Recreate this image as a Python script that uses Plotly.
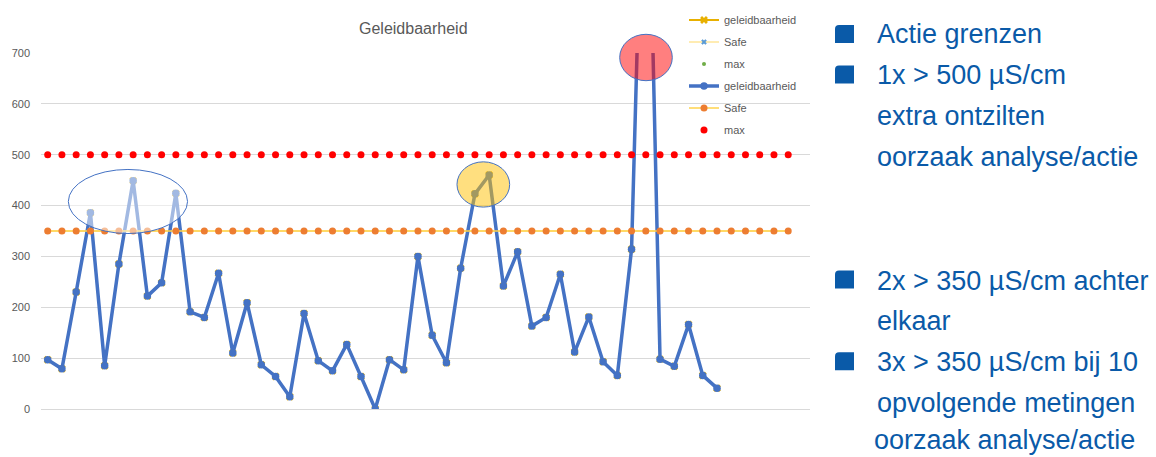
import plotly.graph_objects as go

# ---- data ----
geleid = [97, 79, 230, 386, 85, 285, 449, 222, 248, 424, 191, 180, 267, 110, 209,
          87, 64, 24, 188, 95, 75, 127, 64, 0, 97, 77, 300, 145, 91, 277, 423, 460,
          242, 309, 163, 180, 265, 112, 181, 93, 66, 314, 1320, 98, 84, 166, 66, 41]
n_ref = 53
safe_val = 350
max_val = 500
y_ticks = [0, 100, 200, 300, 400, 500, 600, 700]

x_data = list(range(len(geleid)))
x_ref = list(range(n_ref))
safe = [safe_val] * n_ref
maxl = [max_val] * n_ref

# ---- layout geometry (pixels) ----
W, H = 1156, 457
L, R, T, B = 41, 810, 53, 409
PW, PH = R - L, B - T


def px(p):
    return (p - L) / PW


def py(p):
    return (B - p) / PH


fig = go.Figure()

# hidden/underlying series (as in the original Excel chart)
fig.add_trace(go.Scatter(x=x_data, y=geleid, name="geleidbaarheid", mode="lines+markers",
                         line=dict(color="#E8B000", width=2),
                         marker=dict(symbol="x", size=7, color="#E8B000"),
                         legendgroup="a"))
fig.add_trace(go.Scatter(x=x_ref, y=safe, name="Safe", mode="lines+markers",
                         line=dict(color="#FFD966", width=1),
                         marker=dict(symbol="x", size=5, color="#5B9BD5"),
                         legendgroup="b"))
fig.add_trace(go.Scatter(x=x_ref, y=maxl, name="max", mode="markers",
                         marker=dict(symbol="circle", size=4, color="#70AD47"),
                         legendgroup="c"))
# visible series
fig.add_trace(go.Scatter(x=x_data, y=geleid, name="geleidbaarheid", mode="lines+markers",
                         line=dict(color="#4472C4", width=3.5),
                         marker=dict(symbol="circle", size=7.5, color="#4472C4"),
                         legendgroup="d"))
fig.add_trace(go.Scatter(x=x_ref, y=safe, name="Safe", mode="lines+markers",
                         line=dict(color="#FFD34D", width=1.5),
                         marker=dict(symbol="circle", size=7, color="#ED7D31"),
                         legendgroup="e"))
fig.add_trace(go.Scatter(x=x_ref, y=maxl, name="max", mode="markers",
                         marker=dict(symbol="circle", size=7, color="#FF0000"),
                         legendgroup="f"))

shapes = []
# highlight ellipses
shapes.append(dict(type="circle", xref="x", yref="y", x0=1.45, x1=9.82, y0=345, y1=471,
                   fillcolor="rgba(255,255,255,0.5)", line=dict(color="#4472C4", width=1)))
shapes.append(dict(type="circle", xref="x", yref="y", x0=28.74, x1=32.44, y0=397, y1=486,
                   fillcolor="rgba(255,192,0,0.5)", line=dict(color="#4472C4", width=1)))
shapes.append(dict(type="circle", xref="paper", yref="paper", x0=px(619.7), x1=px(672.3),
                   y0=py(80.7), y1=py(34.3),
                   fillcolor="rgba(255,0,0,0.5)", line=dict(color="#4472C4", width=1)))

# bullet squares (rounded top-left corner)
bullet_color = "#0A5AA8"
for cy in [34, 74.5, 279.5, 361.3]:
    x0, x1 = 835, 854
    y0, y1 = cy - 9, cy + 9
    r = 4
    path = (f"M {px(x0)},{py(y1)} L {px(x0)},{py(y0 + r)} "
            f"Q {px(x0)},{py(y0)} {px(x0 + r)},{py(y0)} "
            f"L {px(x1)},{py(y0)} L {px(x1)},{py(y1)} Z")
    shapes.append(dict(type="path", xref="paper", yref="paper", path=path,
                       fillcolor=bullet_color, line=dict(width=0)))

side_lines = [
    ("Actie grenzen", 874.5, 33.5),
    ("1x > 500 µS/cm", 874.5, 75),
    ("extra ontzilten", 874.5, 116),
    ("oorzaak analyse/actie", 874.5, 157),
    ("2x > 350 µS/cm achter", 874.5, 281),
    ("elkaar", 874.5, 321),
    ("3x > 350 µS/cm bij 10", 874.5, 362),
    ("opvolgende metingen", 874.5, 403),
    ("oorzaak analyse/actie", 872, 440),
]
annotations = []
for txt, xx, yy in side_lines:
    annotations.append(dict(text=txt, xref="paper", yref="paper", x=px(xx), y=py(yy),
                            xanchor="left", yanchor="middle", showarrow=False,
                            font=dict(family="Liberation Sans, Arial, sans-serif",
                                      size=27, color=bullet_color)))

annotations.append(dict(text="Geleidbaarheid", xref="paper", yref="paper", x=px(413), y=py(28),
                        xanchor="center", yanchor="middle", showarrow=False,
                        font=dict(family="Liberation Sans, Arial, sans-serif", size=16,
                                  color="#595959")))

fig.update_layout(
    width=W, height=H,
    margin=dict(l=L, r=W - R, t=T, b=H - B, pad=0, autoexpand=False),
    paper_bgcolor="white", plot_bgcolor="white",
    showlegend=True,
    legend=dict(x=px(684), y=py(5.5), xanchor="left", yanchor="top",
                bgcolor="rgba(0,0,0,0)", tracegroupgap=3,
                font=dict(family="Liberation Sans, Arial, sans-serif", size=11, color="#595959")),
    shapes=shapes,
    annotations=annotations,
    xaxis=dict(range=[-0.47, 53.53], showgrid=False, zeroline=False, showticklabels=False,
               showline=False, ticks=""),
    yaxis=dict(range=[0, 700], tickvals=y_ticks, showgrid=True, gridcolor="#D9D9D9",
               gridwidth=1, zeroline=True, zerolinecolor="#D9D9D9", zerolinewidth=1,
               showline=False, ticks="", ticklabelstandoff=10,
               tickfont=dict(family="Liberation Sans, Arial, sans-serif", size=11,
                             color="#595959")),
)

fig.write_html("out.html", config={"displayModeBar": False},
               post_script="document.body.style.margin='0';")
